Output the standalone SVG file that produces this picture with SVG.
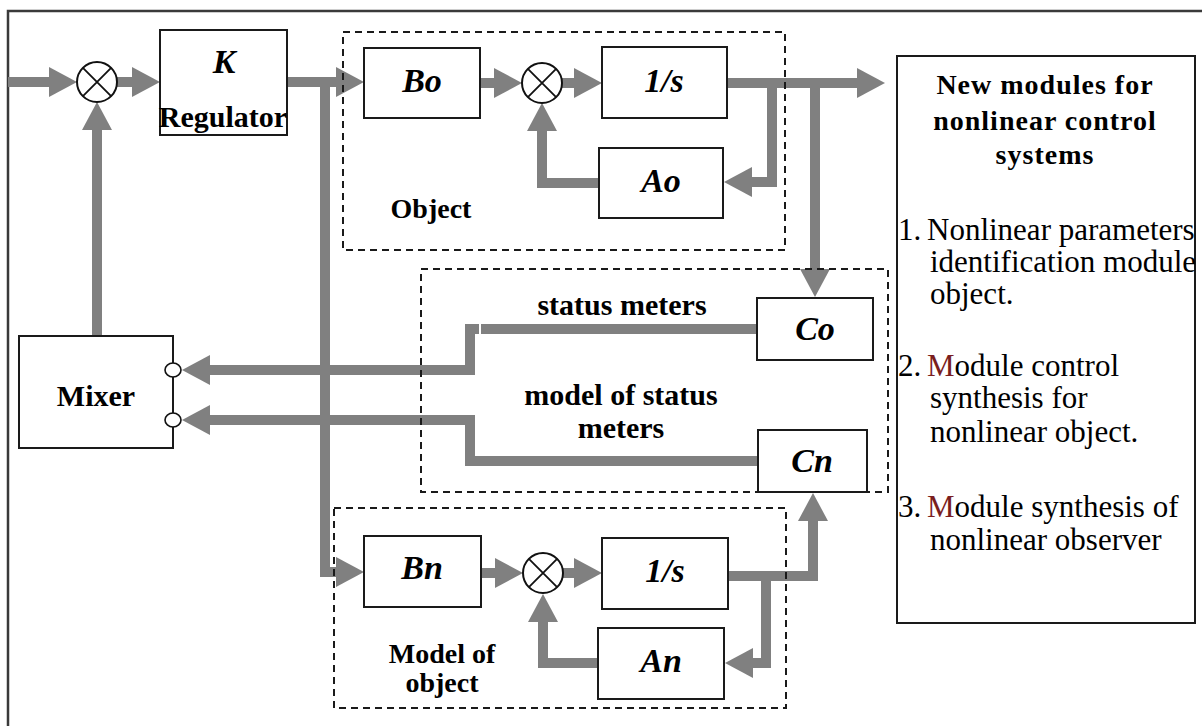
<svg xmlns="http://www.w3.org/2000/svg" width="1202" height="726" viewBox="0 0 1202 726">
<style>
.frame{fill:none;stroke:#3a3a3a;stroke-width:2.5}
.con{fill:none;stroke:#808080;stroke-width:10;stroke-linejoin:miter;stroke-linecap:butt}
.blk{fill:#fff;stroke:#1a1a1a;stroke-width:2}
.dash{fill:none;stroke:#1a1a1a;stroke-width:2;stroke-dasharray:7 5}
.sum{fill:#fff;stroke:#111;stroke-width:2}
.x{stroke:#111;stroke-width:1.8}
.port{fill:#fff;stroke:#111;stroke-width:1.6}
.lbl{font-family:"Liberation Serif","Times New Roman",serif;font-weight:bold;font-size:30px;fill:#000;text-anchor:middle}
.sm{font-size:28px}
.var{font-family:"Liberation Serif","Times New Roman",serif;font-weight:bold;font-style:italic;font-size:34px;fill:#000;text-anchor:middle}
.ttl{font-family:"Liberation Serif","Times New Roman",serif;font-weight:bold;font-size:28px;letter-spacing:1px;fill:#000;text-anchor:middle}
.itm{font-family:"Liberation Serif","Times New Roman",serif;font-size:31px;fill:#000}
.red{fill:#7a1e1e}
</style>
<defs>
<marker id="ah" markerUnits="userSpaceOnUse" markerWidth="30" markerHeight="32" refX="0" refY="15" orient="auto" viewBox="0 0 30 30">
<path d="M0,0 L28,15 L0,30 Z" fill="#808080"/>
</marker>
</defs>
<rect width="1202" height="726" fill="#fff"/>
<path class="frame" d="M8,726 V11 H1202"/>

<g id="connectors">
<path class="con" d="M8,82 H49" marker-end="url(#ah)"/>
<path class="con" d="M117,82 H132" marker-end="url(#ah)"/>
<path class="con" d="M287,82 H336" marker-end="url(#ah)"/>
<path class="con" d="M325,82 V572 H336" marker-end="url(#ah)"/>
<path class="con" d="M480,83 H494" marker-end="url(#ah)"/>
<path class="con" d="M562,83 H574" marker-end="url(#ah)"/>
<path class="con" d="M727,83 H857" marker-end="url(#ah)"/>
<path class="con" d="M772,83 V182 H752" marker-end="url(#ah)"/>
<path class="con" d="M815,83 V269" marker-end="url(#ah)"/>
<path class="con" d="M599,183 H542 V131" marker-end="url(#ah)"/>
<path class="con" d="M97,336 V130" marker-end="url(#ah)"/>
<path class="con" d="M757,329 H481"/>
<path class="con" d="M479,329 H470 V370 H210" marker-end="url(#ah)"/>
<path class="con" d="M758,461 H470 V420 H210" marker-end="url(#ah)"/>
<path class="con" d="M481,573 H495" marker-end="url(#ah)"/>
<path class="con" d="M563,573 H574" marker-end="url(#ah)"/>
<path class="con" d="M728,576 H813 V521" marker-end="url(#ah)"/>
<path class="con" d="M766,576 V663 H753" marker-end="url(#ah)"/>
<path class="con" d="M598,663 H543 V622" marker-end="url(#ah)"/>
</g>

<g id="object-group">
<rect class="dash" x="343" y="32" width="442" height="218"/>
<text class="lbl sm" x="431" y="218">Object</text>
</g>
<g id="status-group">
<rect class="dash" x="421" y="269" width="467" height="223"/>
<text class="lbl" x="622" y="315">status meters</text>
<text class="lbl" x="621" y="405">model of status</text>
<text class="lbl" x="621" y="438">meters</text>
</g>
<g id="model-group">
<rect class="dash" x="334" y="508" width="452" height="200"/>
<text class="lbl sm" x="442" y="663">Model of</text>
<text class="lbl sm" x="442" y="692">object</text>
</g>

<g id="sum1">
<circle class="sum" cx="97" cy="82" r="20"/>
<path class="x" d="M82.9,67.9 L111.1,96.1 M111.1,67.9 L82.9,96.1"/>
</g>
<g id="regulator">
<rect class="blk" x="160" y="30" width="127" height="105"/>
<text class="var" x="224" y="73">K</text>
<text class="lbl" x="223" y="127">Regulator</text>
</g>
<g id="Bo">
<rect class="blk" x="364" y="48" width="116" height="70"/>
<text class="var" x="422" y="92">Bo</text>
</g>
<g id="sum2">
<circle class="sum" cx="542" cy="83" r="20"/>
<path class="x" d="M527.9,68.9 L556.1,97.1 M556.1,68.9 L527.9,97.1"/>
</g>
<g id="integrator-o">
<rect class="blk" x="602" y="47" width="125" height="71"/>
<text class="var" x="664" y="92">1/s</text>
</g>
<g id="Ao">
<rect class="blk" x="599" y="148" width="124" height="70"/>
<text class="var" x="661" y="192">Ao</text>
</g>
<g id="Co">
<rect class="blk" x="757" y="298" width="116" height="62"/>
<text class="var" x="815" y="340">Co</text>
</g>
<g id="Cn">
<rect class="blk" x="758" y="430" width="109" height="62"/>
<text class="var" x="812" y="472">Cn</text>
</g>
<g id="mixer">
<rect class="blk" x="19" y="336" width="154" height="112"/>
<text class="lbl" x="96" y="406">Mixer</text>
<ellipse class="port" cx="173" cy="370" rx="8" ry="7"/>
<ellipse class="port" cx="173" cy="420" rx="8" ry="7"/>
</g>
<g id="Bn">
<rect class="blk" x="364" y="536" width="117" height="71"/>
<text class="var" x="422" y="579">Bn</text>
</g>
<g id="sum3">
<circle class="sum" cx="543" cy="573" r="20"/>
<path class="x" d="M528.9,558.9 L557.1,587.1 M557.1,558.9 L528.9,587.1"/>
</g>
<g id="integrator-n">
<rect class="blk" x="602" y="538" width="126" height="71"/>
<text class="var" x="665" y="582">1/s</text>
</g>
<g id="An">
<rect class="blk" x="598" y="628" width="126" height="71"/>
<text class="var" x="661" y="672">An</text>
</g>

<g id="modules-box">
<rect class="blk" x="897" y="56" width="298" height="567"/>
<text class="ttl" x="1045" y="94">New modules for</text>
<text class="ttl" x="1045" y="130">nonlinear control</text>
<text class="ttl" x="1045" y="164">systems</text>
<text class="itm" x="898" y="240">1.</text>
<text class="itm" x="927" y="240">Nonlinear parameters</text>
<text class="itm" x="930" y="272">identification module</text>
<text class="itm" x="930" y="304">object.</text>
<text class="itm" x="898" y="376">2.</text>
<text class="itm" x="927" y="376"><tspan class="red">M</tspan>odule control</text>
<text class="itm" x="930" y="408">synthesis for</text>
<text class="itm" x="930" y="442">nonlinear object.</text>
<text class="itm" x="898" y="517">3.</text>
<text class="itm" x="927" y="517"><tspan class="red">M</tspan>odule synthesis of</text>
<text class="itm" x="930" y="550">nonlinear observer</text>
</g>
</svg>
